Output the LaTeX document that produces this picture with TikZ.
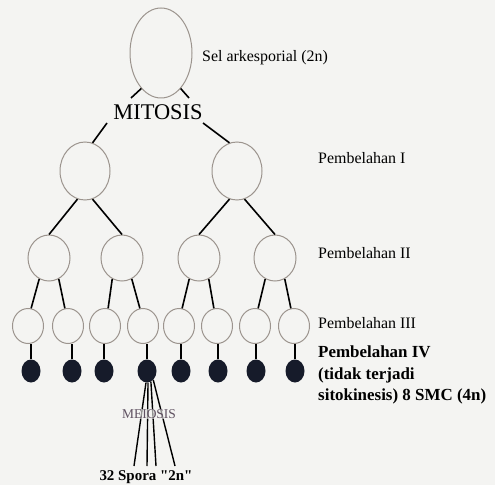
\documentclass[tikz,border=0pt]{standalone}
\usepackage{fontspec}
\setmainfont{Liberation Serif}
\usetikzlibrary{shapes.geometric,calc}
\definecolor{bgc}{HTML}{F4F4F2}
\definecolor{circ}{HTML}{9C948E}
\definecolor{darkc}{HTML}{161B2A}
\definecolor{meic}{HTML}{5E5060}
\begin{document}
\begin{tikzpicture}[x=1bp,y=-1bp,
  hollow/.style={ellipse,draw=circ,line width=1bp,inner sep=0pt},
  lvA/.style={hollow,minimum width=62bp,minimum height=90bp},
  lvB/.style={hollow,minimum width=50bp,minimum height=58bp},
  lvC/.style={hollow,minimum width=42bp,minimum height=46bp},
  lvD/.style={hollow,minimum width=31bp,minimum height=35bp},
  darkcell/.style={ellipse,fill=darkc,draw=none,inner sep=0pt,minimum width=19bp,minimum height=23bp},
  conn/.style={line width=1.6bp,black},
  lbl/.style={anchor=west,inner sep=0pt,font=\fontsize{16}{18}\selectfont},
  blbl/.style={anchor=west,inner sep=0pt,font=\fontsize{17}{21.5}\selectfont\bfseries,align=left}]
\fill[bgc] (0,0) rectangle (495,485);
\useasboundingbox (0,0) rectangle (495,485);

% top cell
\node[lvA] (top) at (161,53) {};
\node[inner sep=0pt,font=\fontsize{22.5}{24}\selectfont] (mit) at (158,112) {MITOSIS};
\coordinate (mA) at (131,98);
\coordinate (mB) at (189,98);
\coordinate (mC) at (107,123);
\coordinate (mD) at (203,123);

% level 1
\node[lvB] (a1) at (85,171) {};
\node[lvB] (a2) at (237,171) {};
% level 2
\node[lvC] (b1) at (49,258) {};
\node[lvC] (b2) at (122,258) {};
\node[lvC] (b3) at (199,258) {};
\node[lvC] (b4) at (275,258) {};
% level 3
\foreach \i/\x in {1/28,2/68,3/105,4/143,5/179,6/217,7/255,8/294}
  \node[lvD] (c\i) at (\x,326) {};
% level 4
\foreach \i/\x in {1/31,2/72,3/104,4/147,5/181,6/218,7/256,8/295}
  \node[darkcell] (d\i) at (\x,371) {};

% connectors
\draw[conn] (top.241) -- (mA);
\draw[conn] (top.299) -- (mB);
\draw[conn] (mC) -- (a1.75);
\draw[conn] (mD) -- (a2.105);
\draw[conn] (a1.255) -- (b1.north);
\draw[conn] (a1.285) -- (b2.north);
\draw[conn] (a2.255) -- (b3.north);
\draw[conn] (a2.285) -- (b4.north);
\draw[conn] (b1.245) -- (c1.80);
\draw[conn] (b1.295) -- (c2.100);
\draw[conn] (b2.245) -- (c3.80);
\draw[conn] (b2.295) -- (c4.100);
\draw[conn] (b3.245) -- (c5.80);
\draw[conn] (b3.295) -- (c6.100);
\draw[conn] (b4.245) -- (c7.80);
\draw[conn] (b4.295) -- (c8.100);
\foreach \i in {1,...,8}
  \draw[conn] (d\i.north) -- (d\i.north |- c\i.south);

% spores
\coordinate (s1) at (134,466);
\coordinate (s2) at (147,466);
\coordinate (s3) at (156,466);
\coordinate (s4) at (175,466);
\draw[conn,line width=1.4bp] (d4.265) -- (s1);
\draw[conn,line width=1.4bp] (d4.275) -- (s2);
\draw[conn,line width=1.4bp] (d4.290) -- (s3);
\draw[conn,line width=1.4bp] (d4.305) -- (s4);
\node[fill=bgc,fill opacity=0.6,text opacity=1,text=meic,inner sep=0.5pt,font=\fontsize{13.5}{15}\selectfont] (mei) at (149,414) {MEIOSIS};
\node[inner sep=0pt,font=\fontsize{15}{16}\selectfont\bfseries] (spora) at (146,477) {32 Spora \textquotedbl 2n\textquotedbl};

% labels
\node[lbl] (t0) at (202,58) {Sel arkesporial (2n)};
\node[lbl] (t1) at (318,158) {Pembelahan I};
\node[lbl] (t2) at (318,253) {Pembelahan II};
\node[lbl] (t3) at (318,323) {Pembelahan III};
\node[blbl,anchor=north west] (t4) at (318,346) {Pembelahan IV\\(tidak terjadi\\sitokinesis) 8 SMC (4n)};
\end{tikzpicture}
\end{document}
